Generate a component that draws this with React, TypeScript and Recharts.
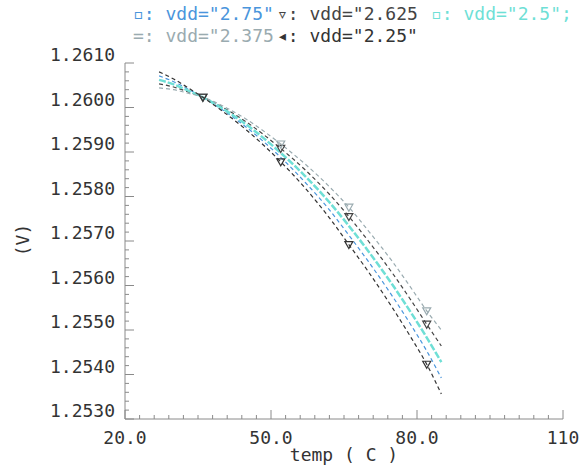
import React from "react"
import { LineChart, Line, XAxis, YAxis } from "recharts"

// temperature sweep (C)
const temps = [27, 30, 33, 36, 40, 45, 52, 57, 62, 66, 70, 75, 79, 82, 85]

// output voltage (V) per supply
const vdd275 = [1.26071, 1.26058, 1.26041, 1.26023, 1.25995, 1.25955, 1.25888, 1.25832, 1.2577, 1.25713, 1.25654, 1.25575, 1.25507, 1.25453, 1.25392]
const vdd2625 = [1.26053, 1.26046, 1.26035, 1.26023, 1.26001, 1.25967, 1.25908, 1.2586, 1.25805, 1.25755, 1.257, 1.25627, 1.25563, 1.25513, 1.25464]
const vdd25 = [1.26062, 1.26052, 1.26038, 1.26023, 1.25998, 1.25961, 1.25898, 1.25846, 1.25787, 1.25734, 1.25677, 1.25601, 1.25535, 1.25483, 1.25428]
const vdd2375 = [1.26044, 1.2604, 1.26032, 1.26023, 1.26004, 1.25973, 1.25918, 1.25873, 1.25822, 1.25776, 1.25723, 1.25653, 1.25591, 1.25543, 1.255]
const vdd225 = [1.2608, 1.26064, 1.26044, 1.26023, 1.25992, 1.25949, 1.25878, 1.25819, 1.25752, 1.25692, 1.25631, 1.25549, 1.25479, 1.25423, 1.25356]

const markerTemps = [36, 52, 66, 82]

const xMajorTicks = [20, 50, 80, 110]
const xTickLabels = ["20.0", "50.0", "80.0", "110"]
const yMajorTicks = [1.253, 1.254, 1.255, 1.256, 1.257, 1.258, 1.259, 1.26, 1.261]

const series = [
  { key: "v275", label: 'vdd="2.75"', sym: "\u25ab", color: "#4a95dc", values: vdd275, marker: false },
  { key: "v2625", label: 'vdd="2.625', sym: "\u25bf", color: "#444444", values: vdd2625, marker: true },
  { key: "v25", label: 'vdd="2.5";', sym: "\u25ab", color: "#6fdfd6", values: vdd25, marker: false },
  { key: "v2375", label: 'vdd="2.375', sym: "=", color: "#9aabb0", values: vdd2375, marker: true },
  { key: "v225", label: 'vdd="2.25"', sym: "\u25c2", color: "#333333", values: vdd225, marker: true },
]

const data = temps.map((t, i) => {
  const row: Record<string, number> = { temp: t }
  series.forEach((s) => (row[s.key] = s.values[i]))
  return row
})

// minor ticks: x every 3 C, y every 0.0002 V
const xTicks: number[] = []
for (let t = 20; t <= 110; t += 3) xTicks.push(t)
const yTicks: number[] = []
for (let i = 0; i <= 40; i++) yTicks.push(+(1.253 + i * 0.0002).toFixed(4))

const W = 581
const H = 466
const PLOT_LEFT = 125
const PLOT_TOP = 63
const AXIS_Y = 419
const FONT = "'DejaVu Sans Mono', monospace"
const FS = 18
const AXIS_COLOR = "#8a8a8a"

const XTick = (props: any) => {
  const { x, payload } = props
  const idx = xMajorTicks.indexOf(payload.value)
  const major = idx >= 0
  return (
    <g>
      <line x1={x} x2={x} y1={AXIS_Y} y2={AXIS_Y - (major ? 9 : 4)} stroke={AXIS_COLOR} />
      {major && (
        <text x={x} y={AXIS_Y + 25} textAnchor="middle" fontSize={FS} fontFamily={FONT} fill="#333">
          {xTickLabels[idx]}
        </text>
      )}
    </g>
  )
}

const YTick = (props: any) => {
  const { y, payload } = props
  const v = payload.value
  const major = yMajorTicks.some((m) => Math.abs(m - v) < 1e-7)
  return (
    <g>
      <line x1={PLOT_LEFT} x2={PLOT_LEFT + (major ? 9 : 4)} y1={y} y2={y} stroke={AXIS_COLOR} />
      {major && (
        <text x={PLOT_LEFT - 10} y={y - 2} textAnchor="end" fontSize={FS} fontFamily={FONT} fill="#333">
          {v.toFixed(4)}
        </text>
      )}
    </g>
  )
}

const makeDot = (color: string, show: boolean) => (props: any) => {
  const { cx, cy, payload, index } = props
  if (!show || !markerTemps.includes(payload.temp)) return <g key={index} />
  return (
    <path
      key={index}
      d={`M${cx - 4},${cy - 3} L${cx + 4},${cy - 3} L${cx},${cy + 4} Z`}
      fill="none"
      stroke={color}
      strokeWidth={1.2}
    />
  )
}

const legendRows = [series.slice(0, 3), series.slice(3)]
const colLeft = [133, 277, 431]

export default function App() {
  return (
    <div style={{ position: "absolute", left: 0, top: 0, width: W, height: H, background: "#fff" }}>
      {legendRows.map((row, r) =>
        row.map((s, c) => (
          <div
            key={s.key}
            style={{
              position: "absolute",
              left: colLeft[c],
              top: 3 + r * 22,
              fontFamily: FONT,
              fontSize: FS,
              whiteSpace: "pre",
              color: s.color,
            }}
          >
            {s.sym + ": " + s.label}
          </div>
        ))
      )}
      <div
        style={{
          position: "absolute",
          left: 22,
          top: 240,
          transform: "translate(-50%, -50%) rotate(-90deg)",
          fontFamily: FONT,
          fontSize: FS,
          color: "#333",
          whiteSpace: "pre",
          zIndex: 1,
        }}
      >
        (V)
      </div>
      <LineChart width={W} height={H} data={data} margin={{ top: PLOT_TOP, right: 18, left: 0, bottom: 0 }}>
        <XAxis
          dataKey="temp"
          type="number"
          domain={[20, 110]}
          ticks={xTicks}
          interval={0}
          tick={<XTick />}
          tickLine={false}
          axisLine={{ stroke: AXIS_COLOR }}
          height={H - AXIS_Y}
          label={{ value: "temp ( C )", position: "insideBottom", offset: 5, fontSize: FS, fontFamily: FONT, fill: "#333" }}
        />
        <YAxis
          type="number"
          domain={[1.253, 1.261]}
          ticks={yTicks}
          interval={0}
          allowDataOverflow
          tick={<YTick />}
          tickLine={false}
          axisLine={{ stroke: AXIS_COLOR }}
          width={PLOT_LEFT}
        />
        {series.map((s) => (
          <Line
            key={s.key}
            type="monotone"
            dataKey={s.key}
            stroke={s.color}
            strokeWidth={s.key === "v25" ? 2.5 : 1.2}
            strokeDasharray={s.key === "v25" ? "7 2" : "4 3"}
            dot={makeDot(s.color, s.marker)}
            activeDot={false}
            isAnimationActive={false}
          />
        ))}
      </LineChart>
    </div>
  )
}
